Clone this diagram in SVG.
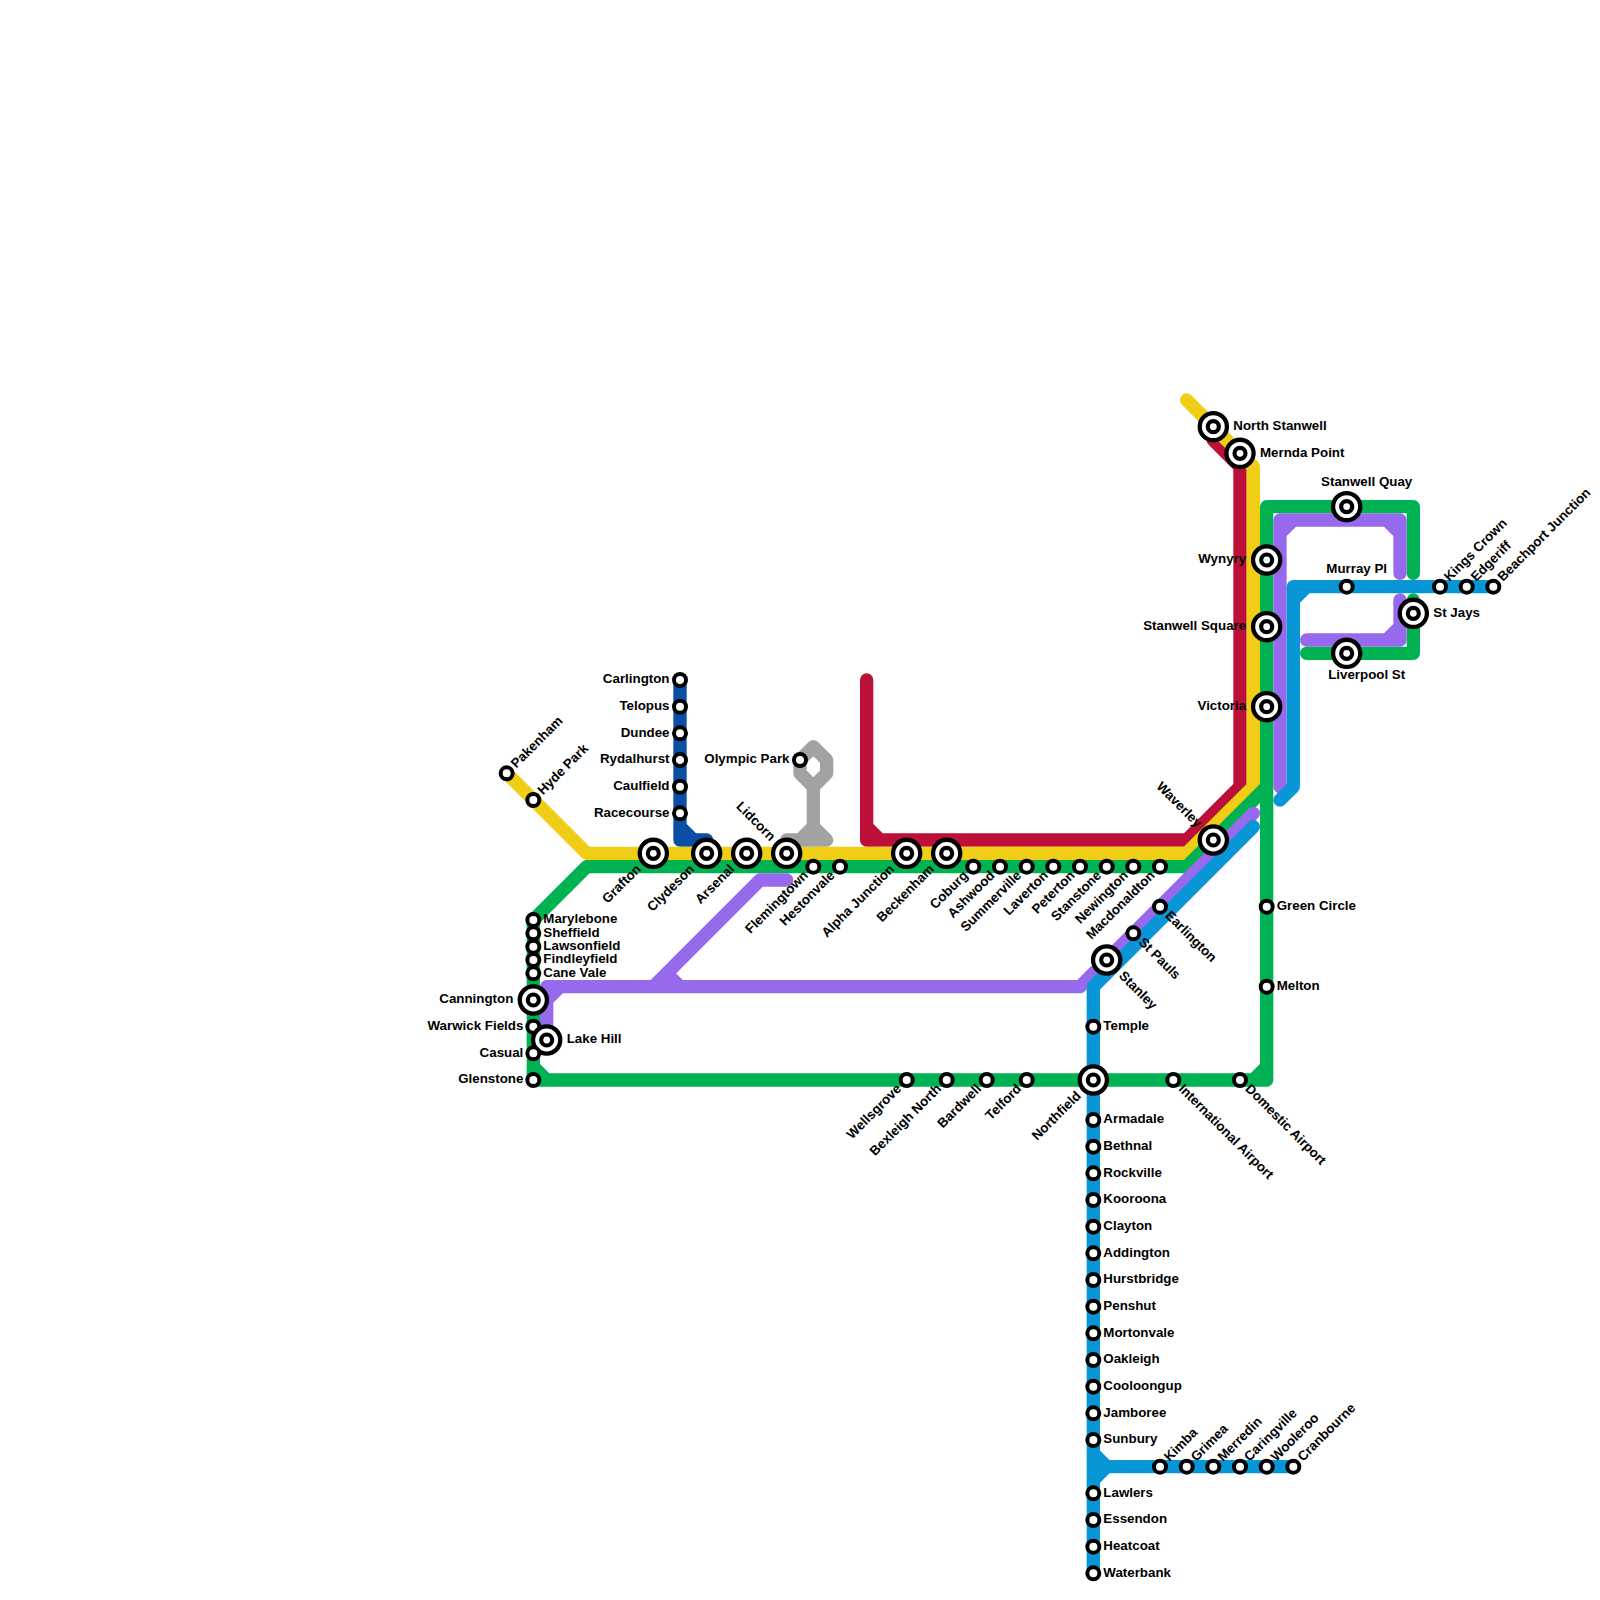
<svg xmlns="http://www.w3.org/2000/svg" width="1600" height="1600" viewBox="0 0 1600 1600">
<style>
.ln{fill:none;stroke-width:1;stroke-linecap:round;stroke-linejoin:round}
text{font-family:"Liberation Sans",Arial,sans-serif;font-weight:bold;font-size:13.33px;fill:#000}
.e{text-anchor:end}.m{text-anchor:middle}
.ring{fill:#fff;stroke:#000}
</style>
<defs>
<g id="s"><circle class="ring" r="6" stroke-width="4"/></g>
<g id="b"><circle class="ring" r="13.6" stroke-width="4.3"/><circle class="ring" r="5.5" stroke-width="4.2"/></g>
</defs>
<rect width="1600" height="1600" fill="#fff"/>
<g id="connectors" transform="scale(13.3333)">
<path class="ln" stroke="#0b4ea6" d="M51 51V63H53M51 62L52 63"/>
<path class="ln" stroke="#a2a2a2" d="M60 57L61 56L62 57V58L61 59L60 58ZM61 59V63M59 63H62M61 62L60 63M61 62L62 63"/>
<path class="ln" stroke="#bd1038" d="M65 51V63H89L93 59V35L91 33M65 62L66 63"/>
<path class="ln" stroke="#f0ce15" d="M38 58L44 64H89L94 59V35L89 30"/>
<path class="ln" stroke="#00b251" d="M106 43V38H95V81H40V69L44 65H89L95 59M106 45V49H98M40 80L41 81M94 81L95 80"/>
<path class="ln" stroke="#9769ec" d="M94 61L81 74H41V78M41 75L42 74M59 66H57L49 74M50 73L51 74M96 59V39H105V43M96 40L97 39M104 39L105 40M105 45V48H98M105 47L104 48"/>
<path class="ln" stroke="#0896d7" d="M82 118V74L94 62M97 110H83L82 109M83 110L82 111M112 44H97V59L96 60M97 45L98 44"/>
</g>
<g id="stations">
<g id="n-pakenham" transform="translate(506.67,773.33)"><use href="#s"/><text transform="rotate(-45)" x="10" y="3.5">Pakenham</text></g>
<g id="n-hyde-park" transform="translate(533.33,800)"><use href="#s"/><text transform="rotate(-45)" x="10" y="3.5">Hyde Park</text></g>
<g id="n-carlington" transform="translate(680,680)"><use href="#s"/><text class="e" x="-10.5" y="3.4">Carlington</text></g>
<g id="n-telopus" transform="translate(680,706.67)"><use href="#s"/><text class="e" x="-10.5" y="3.4">Telopus</text></g>
<g id="n-dundee" transform="translate(680,733.33)"><use href="#s"/><text class="e" x="-10.5" y="3.4">Dundee</text></g>
<g id="n-rydalhurst" transform="translate(680,760)"><use href="#s"/><text class="e" x="-10.5" y="3.4">Rydalhurst</text></g>
<g id="n-caulfield" transform="translate(680,786.67)"><use href="#s"/><text class="e" x="-10.5" y="3.4">Caulfield</text></g>
<g id="n-racecourse" transform="translate(680,813.33)"><use href="#s"/><text class="e" x="-10.5" y="3.4">Racecourse</text></g>
<g id="n-olympic-park" transform="translate(800,760)"><use href="#s"/><text class="e" x="-10.5" y="3.4">Olympic Park</text></g>
<g id="n-grafton" transform="translate(653.33,853.33)"><use href="#b"/><text class="e" transform="rotate(-45)" x="-20" y="3.5">Grafton</text></g>
<g id="n-clydeson" transform="translate(706.67,853.33)"><use href="#b"/><text class="e" transform="rotate(-45)" x="-20" y="3.5">Clydeson</text></g>
<g id="n-arsenal" transform="translate(746.67,853.33)"><use href="#b"/><text class="e" transform="rotate(-45)" x="-20" y="3.5">Arsenal</text></g>
<g id="n-lidcorn" transform="translate(786.67,853.33)"><use href="#b"/><text class="e" transform="rotate(45)" x="-20" y="3.5">Lidcorn</text></g>
<g id="n-flemingtown" transform="translate(813.33,866.67)"><use href="#s"/><text class="e" transform="rotate(-45)" x="-10" y="3.5">Flemingtown</text></g>
<g id="n-hestonvale" transform="translate(840,866.67)"><use href="#s"/><text class="e" transform="rotate(-45)" x="-10" y="3.5">Hestonvale</text></g>
<g id="n-alpha-junction" transform="translate(906.67,853.33)"><use href="#b"/><text class="e" transform="rotate(-45)" x="-20" y="3.5">Alpha Junction</text></g>
<g id="n-beckenham" transform="translate(946.67,853.33)"><use href="#b"/><text class="e" transform="rotate(-45)" x="-20" y="3.5">Beckenham</text></g>
<g id="n-coburg" transform="translate(973.33,866.67)"><use href="#s"/><text class="e" transform="rotate(-45)" x="-10" y="3.5">Coburg</text></g>
<g id="n-ashwood" transform="translate(1000,866.67)"><use href="#s"/><text class="e" transform="rotate(-45)" x="-10" y="3.5">Ashwood</text></g>
<g id="n-summerville" transform="translate(1026.67,866.67)"><use href="#s"/><text class="e" transform="rotate(-45)" x="-10" y="3.5">Summerville</text></g>
<g id="n-laverton" transform="translate(1053.33,866.67)"><use href="#s"/><text class="e" transform="rotate(-45)" x="-10" y="3.5">Laverton</text></g>
<g id="n-peterton" transform="translate(1080,866.67)"><use href="#s"/><text class="e" transform="rotate(-45)" x="-10" y="3.5">Peterton</text></g>
<g id="n-stanstone" transform="translate(1106.67,866.67)"><use href="#s"/><text class="e" transform="rotate(-45)" x="-10" y="3.5">Stanstone</text></g>
<g id="n-newington" transform="translate(1133.33,866.67)"><use href="#s"/><text class="e" transform="rotate(-45)" x="-10" y="3.5">Newington</text></g>
<g id="n-macdonaldton" transform="translate(1160,866.67)"><use href="#s"/><text class="e" transform="rotate(-45)" x="-10" y="3.5">Macdonaldton</text></g>
<g id="n-marylebone" transform="translate(533.33,920)"><use href="#s"/><text x="10" y="3.4">Marylebone</text></g>
<g id="n-sheffield" transform="translate(533.33,933.33)"><use href="#s"/><text x="10" y="3.4">Sheffield</text></g>
<g id="n-lawsonfield" transform="translate(533.33,946.67)"><use href="#s"/><text x="10" y="3.4">Lawsonfield</text></g>
<g id="n-findleyfield" transform="translate(533.33,960)"><use href="#s"/><text x="10" y="3.4">Findleyfield</text></g>
<g id="n-cane-vale" transform="translate(533.33,973.33)"><use href="#s"/><text x="10" y="3.4">Cane Vale</text></g>
<g id="n-cannington" transform="translate(533.33,1000)"><use href="#b"/><text class="e" x="-20" y="3.4">Cannington</text></g>
<g id="n-warwick-fields" transform="translate(533.33,1026.67)"><use href="#s"/><text class="e" x="-10" y="3.4">Warwick Fields</text></g>
<g id="n-lake-hill" transform="translate(546.67,1040)"><use href="#b"/><text x="20" y="3.4">Lake Hill</text></g>
<g id="n-casual" transform="translate(533.33,1053.33)"><use href="#s"/><text class="e" x="-10" y="3.4">Casual</text></g>
<g id="n-glenstone" transform="translate(533.33,1080)"><use href="#s"/><text class="e" x="-10" y="3.4">Glenstone</text></g>
<g id="n-wellsgrove" transform="translate(906.67,1080)"><use href="#s"/><text class="e" transform="rotate(-45)" x="-10" y="3.5">Wellsgrove</text></g>
<g id="n-bexleigh-north" transform="translate(946.67,1080)"><use href="#s"/><text class="e" transform="rotate(-45)" x="-10" y="3.5">Bexleigh North</text></g>
<g id="n-bardwell" transform="translate(986.67,1080)"><use href="#s"/><text class="e" transform="rotate(-45)" x="-10" y="3.5">Bardwell</text></g>
<g id="n-telford" transform="translate(1026.67,1080)"><use href="#s"/><text class="e" transform="rotate(-45)" x="-10" y="3.5">Telford</text></g>
<g id="n-northfield" transform="translate(1093.33,1080)"><use href="#b"/><text class="e" transform="rotate(-45)" x="-20" y="3.5">Northfield</text></g>
<g id="n-international-airport" transform="translate(1173.33,1080)"><use href="#s"/><text transform="rotate(45)" x="10" y="3.5">International Airport</text></g>
<g id="n-domestic-airport" transform="translate(1240,1080)"><use href="#s"/><text transform="rotate(45)" x="10" y="3.5">Domestic Airport</text></g>
<g id="n-earlington" transform="translate(1160,906.67)"><use href="#s"/><text transform="rotate(45)" x="10" y="3.5">Earlington</text></g>
<g id="n-st-pauls" transform="translate(1133.33,933.33)"><use href="#s"/><text transform="rotate(45)" x="10" y="3.5">St Pauls</text></g>
<g id="n-stanley" transform="translate(1106.67,960)"><use href="#b"/><text transform="rotate(45)" x="20" y="3.5">Stanley</text></g>
<g id="n-temple" transform="translate(1093.33,1026.67)"><use href="#s"/><text x="10" y="3.4">Temple</text></g>
<g id="n-green-circle" transform="translate(1266.67,906.67)"><use href="#s"/><text x="10" y="3.4">Green Circle</text></g>
<g id="n-melton" transform="translate(1266.67,986.67)"><use href="#s"/><text x="10" y="3.4">Melton</text></g>
<g id="n-armadale" transform="translate(1093.33,1120)"><use href="#s"/><text x="10" y="3.4">Armadale</text></g>
<g id="n-bethnal" transform="translate(1093.33,1146.67)"><use href="#s"/><text x="10" y="3.4">Bethnal</text></g>
<g id="n-rockville" transform="translate(1093.33,1173.33)"><use href="#s"/><text x="10" y="3.4">Rockville</text></g>
<g id="n-kooroona" transform="translate(1093.33,1200)"><use href="#s"/><text x="10" y="3.4">Kooroona</text></g>
<g id="n-clayton" transform="translate(1093.33,1226.67)"><use href="#s"/><text x="10" y="3.4">Clayton</text></g>
<g id="n-addington" transform="translate(1093.33,1253.33)"><use href="#s"/><text x="10" y="3.4">Addington</text></g>
<g id="n-hurstbridge" transform="translate(1093.33,1280)"><use href="#s"/><text x="10" y="3.4">Hurstbridge</text></g>
<g id="n-penshut" transform="translate(1093.33,1306.67)"><use href="#s"/><text x="10" y="3.4">Penshut</text></g>
<g id="n-mortonvale" transform="translate(1093.33,1333.33)"><use href="#s"/><text x="10" y="3.4">Mortonvale</text></g>
<g id="n-oakleigh" transform="translate(1093.33,1360)"><use href="#s"/><text x="10" y="3.4">Oakleigh</text></g>
<g id="n-cooloongup" transform="translate(1093.33,1386.67)"><use href="#s"/><text x="10" y="3.4">Cooloongup</text></g>
<g id="n-jamboree" transform="translate(1093.33,1413.33)"><use href="#s"/><text x="10" y="3.4">Jamboree</text></g>
<g id="n-sunbury" transform="translate(1093.33,1440)"><use href="#s"/><text x="10" y="3.4">Sunbury</text></g>
<g id="n-lawlers" transform="translate(1093.33,1493.33)"><use href="#s"/><text x="10" y="3.4">Lawlers</text></g>
<g id="n-essendon" transform="translate(1093.33,1520)"><use href="#s"/><text x="10" y="3.4">Essendon</text></g>
<g id="n-heatcoat" transform="translate(1093.33,1546.67)"><use href="#s"/><text x="10" y="3.4">Heatcoat</text></g>
<g id="n-waterbank" transform="translate(1093.33,1573.33)"><use href="#s"/><text x="10" y="3.4">Waterbank</text></g>
<g id="n-kimba" transform="translate(1160,1466.67)"><use href="#s"/><text transform="rotate(-45)" x="10" y="3.5">Kimba</text></g>
<g id="n-grimea" transform="translate(1186.67,1466.67)"><use href="#s"/><text transform="rotate(-45)" x="10" y="3.5">Grimea</text></g>
<g id="n-merredin" transform="translate(1213.33,1466.67)"><use href="#s"/><text transform="rotate(-45)" x="10" y="3.5">Merredin</text></g>
<g id="n-caringville" transform="translate(1240,1466.67)"><use href="#s"/><text transform="rotate(-45)" x="10" y="3.5">Caringville</text></g>
<g id="n-wooleroo" transform="translate(1266.67,1466.67)"><use href="#s"/><text transform="rotate(-45)" x="10" y="3.5">Wooleroo</text></g>
<g id="n-cranbourne" transform="translate(1293.33,1466.67)"><use href="#s"/><text transform="rotate(-45)" x="10" y="3.5">Cranbourne</text></g>
<g id="n-north-stanwell" transform="translate(1213.33,426.67)"><use href="#b"/><text x="20" y="3.4">North Stanwell</text></g>
<g id="n-mernda-point" transform="translate(1240,453.33)"><use href="#b"/><text x="20" y="3.4">Mernda Point</text></g>
<g id="n-stanwell-quay" transform="translate(1346.67,506.67)"><use href="#b"/><text class="m" x="20" y="-21">Stanwell Quay</text></g>
<g id="n-wynyry" transform="translate(1266.67,560)"><use href="#b"/><text class="e" x="-20.5" y="3.4">Wynyry</text></g>
<g id="n-murray-pl" transform="translate(1346.67,586.67)"><use href="#s"/><text class="m" x="10" y="-14">Murray Pl</text></g>
<g id="n-kings-crown" transform="translate(1440,586.67)"><use href="#s"/><text transform="rotate(-45)" x="10" y="3.5">Kings Crown</text></g>
<g id="n-edgeriff" transform="translate(1466.67,586.67)"><use href="#s"/><text transform="rotate(-45)" x="10" y="3.5">Edgeriff</text></g>
<g id="n-beachport-junction" transform="translate(1493.33,586.67)"><use href="#s"/><text transform="rotate(-45)" x="10" y="3.5">Beachport Junction</text></g>
<g id="n-st-jays" transform="translate(1413.33,613.33)"><use href="#b"/><text x="20" y="3.4">St Jays</text></g>
<g id="n-stanwell-square" transform="translate(1266.67,626.67)"><use href="#b"/><text class="e" x="-20.5" y="3.4">Stanwell Square</text></g>
<g id="n-liverpool-st" transform="translate(1346.67,653.33)"><use href="#b"/><text class="m" x="20" y="26">Liverpool St</text></g>
<g id="n-victoria" transform="translate(1266.67,706.67)"><use href="#b"/><text class="e" x="-20.5" y="3.4">Victoria</text></g>
<g id="n-waverley" transform="translate(1213.33,840)"><use href="#b"/><text class="e" transform="rotate(45)" x="-20" y="3.5">Waverley</text></g>
</g>
</svg>
